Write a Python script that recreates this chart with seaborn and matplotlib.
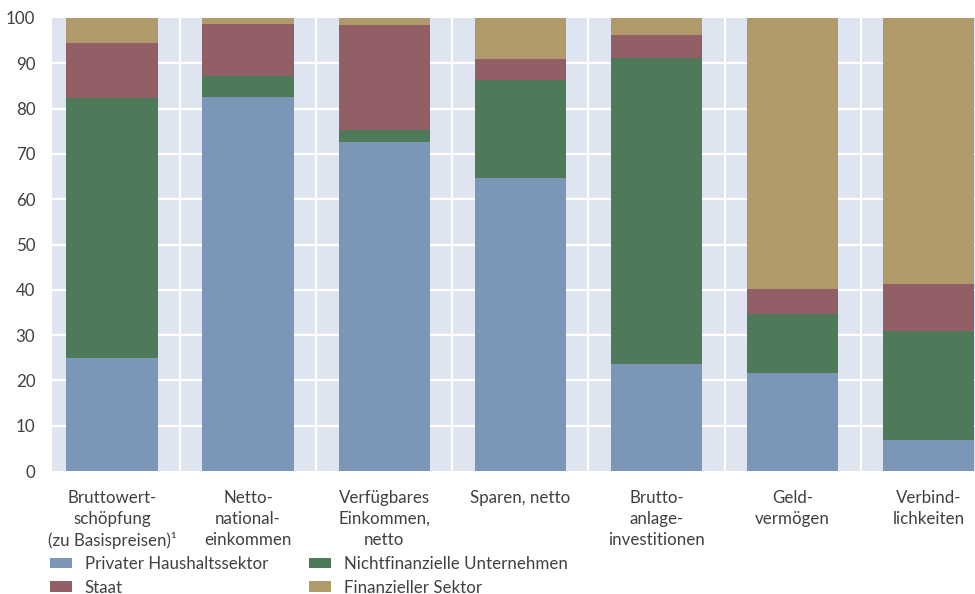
import matplotlib
matplotlib.use("Agg")
import matplotlib.pyplot as plt
import seaborn as sns
import pandas as pd
import numpy as np
from matplotlib.patches import Patch

categories = ["Bruttowert-\nschöpfung\n(zu Basispreisen)¹", "Netto-\nnational-\neinkommen",
              "Verfügbares\nEinkommen,\nnetto", "Sparen, netto", "Brutto-\nanlage-\ninvestitionen",
              "Geld-\nvermögen", "Verbind-\nlichkeiten"]
series_names = ["Privater Haushaltssektor", "Nichtfinanzielle Unternehmen", "Staat", "Finanzieller Sektor"]
privat = [25.0, 82.6, 72.6, 64.7, 23.6, 21.6, 6.8]
nichtfin = [57.3, 4.7, 2.7, 21.6, 67.6, 13.1, 24.1]
staat = [12.1, 11.4, 23.2, 4.7, 5.0, 5.5, 10.4]
finanz = [5.6, 1.3, 1.5, 9.0, 3.8, 59.8, 58.7]
yticks = [0, 10, 20, 30, 40, 50, 60, 70, 80, 90, 100]

colors = {"Privater Haushaltssektor": "#7b96b6", "Nichtfinanzielle Unternehmen": "#4e7a5a",
          "Staat": "#935f67", "Finanzieller Sektor": "#b09a6a"}
TXT = "#404040"
FS = 12.2

sns.set_style("white")
plt.rcParams['font.family'] = ['Lato', 'DejaVu Sans']

fig = plt.figure(figsize=(9.75, 5.94), dpi=100)
ax = fig.add_axes([52/975, 1-471/594, 1-52/975, (471-18)/594])
ax.set_facecolor("#dfe5f0")

vals = [privat, nichtfin, staat, finanz]
cum = np.cumsum(np.array(vals), axis=0)
# draw from top (cumulative) down
for i in range(3, -1, -1):
    name = series_names[i]
    d = pd.DataFrame({"cat": categories, "val": cum[i]})
    sns.barplot(data=d, x="cat", y="val", color=colors[name], width=0.67,
                saturation=1, ax=ax, zorder=2, order=categories,
                linewidth=0, edgecolor="none")

ax.set_ylim(0, 100)
ax.set_xlim(-0.44, 6.34)
ax.set_yticks(yticks)
ax.set_yticklabels([str(t) for t in yticks])
ax.set_xlabel("")
ax.set_ylabel("")
for s in ax.spines.values():
    s.set_visible(False)
for t in yticks[1:-1]:
    ax.axhline(t, color="white", lw=1.6, zorder=1)
for b in np.arange(0.5, 6.5, 1):
    ax.axvline(b, color="white", lw=1.6, zorder=1)
ax.tick_params(axis="both", length=0, labelsize=FS, colors=TXT)
ax.tick_params(axis="y", pad=12)
ax.tick_params(axis="x", pad=14)
for lbl in ax.get_xticklabels():
    lbl.set_multialignment("center")
    lbl.set_linespacing(1.35)

order = ["Privater Haushaltssektor", "Staat", "Nichtfinanzielle Unternehmen", "Finanzieller Sektor"]
handles = [Patch(facecolor=colors[n], edgecolor="none", label=n) for n in order]
leg = fig.legend(handles=handles, ncol=2, loc="upper left", bbox_to_anchor=(50/975, 1-556/594),
                 frameon=False, fontsize=FS, handlelength=1.3, handleheight=0.6,
                 columnspacing=2.4, labelspacing=0.45, handletextpad=0.75, borderaxespad=0,
                 borderpad=0)
for t in leg.get_texts():
    t.set_color(TXT)

fig.savefig("out.png", dpi=100)
